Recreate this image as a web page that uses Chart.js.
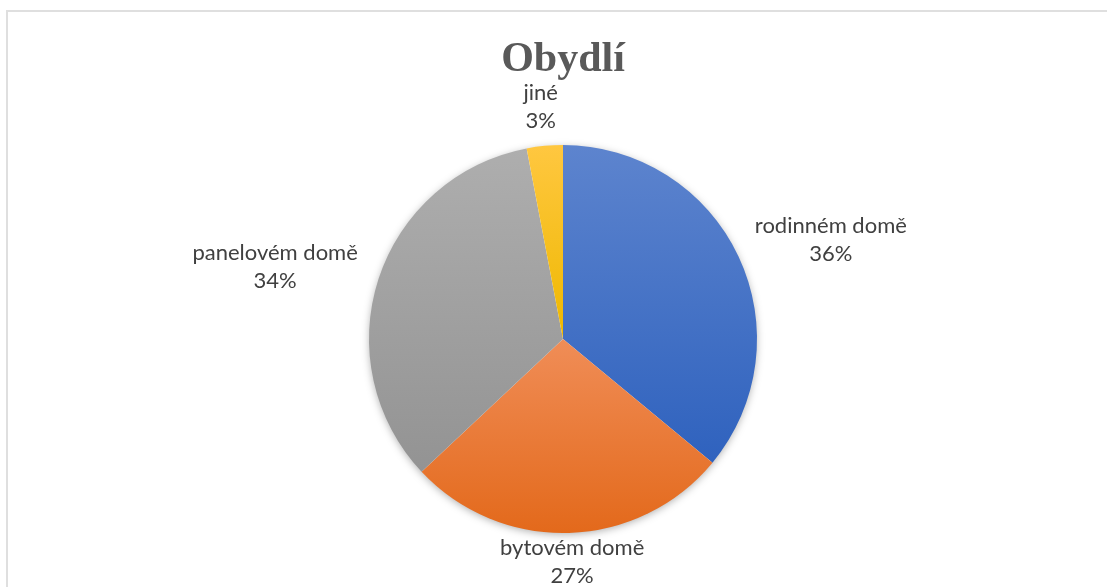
<!DOCTYPE html>
<html lang="cs">
<head>
<meta charset="utf-8">
<title>Obydlí</title>
<script src="https://cdn.jsdelivr.net/npm/chart.js@4.4.1/dist/chart.umd.min.js"></script>
<style>
    html, body { margin: 0; padding: 0; background: #fff; overflow: hidden; }
    #ramecek { position: absolute; left: 6px; top: 10px; width: 1130px; height: 620px;
               border: 2px solid #dfdfdf; box-sizing: border-box; }
    #obal { position: absolute; left: 0; top: 0; width: 1107px; height: 587px; }
</style>
</head>
<body>
<div id="ramecek"></div>
<div id="obal"><canvas id="graf" width="1107" height="587"></canvas></div>
<script>
// data
const kategorie = ["rodinném domě", "bytovém domě", "panelovém domě", "jiné"];
const hodnoty = [36, 27, 34, 3];
const barvyHore = ["#5d84ce", "#f08d57", "#aeaeae", "#ffc740"];
const barvyDole = ["#2f62be", "#e3691b", "#939393", "#eeb800"];
const nadpis = "Obydlí";

const soucet = hodnoty.reduce((a, b) => a + b, 0);

// svislý rozsah výseče (kvůli přechodu shora dolů)
function rozsahY(cy, r, a0, a1) {
    const ys = [cy, cy + r * Math.sin(a0), cy + r * Math.sin(a1)];
    for (let k = -2; k <= 4; k++) {
        const a = k * Math.PI / 2;
        if (a > a0 && a < a1) ys.push(cy + r * Math.sin(a));
    }
    return [Math.min(...ys), Math.max(...ys)];
}

function vypln(ctx) {
    const i = ctx.dataIndex;
    const chart = ctx.chart;
    const area = chart.chartArea;
    if (!area) return barvyHore[i];
    const cy = (area.top + area.bottom) / 2;
    const r = Math.min(area.right - area.left, area.bottom - area.top) / 2;
    const pred = hodnoty.slice(0, i).reduce((a, b) => a + b, 0);
    const a0 = -Math.PI / 2 + 2 * Math.PI * pred / soucet;
    const a1 = a0 + 2 * Math.PI * hodnoty[i] / soucet;
    const [y0, y1] = rozsahY(cy, r, a0, a1);
    const g = chart.ctx.createLinearGradient(0, y0, 0, y1);
    g.addColorStop(0, barvyHore[i]);
    g.addColorStop(1, barvyDole[i]);
    return g;
}

// stín pod koláčem
const stin = {
    id: "stin",
    beforeDatasetsDraw(chart) {
        const arc = chart.getDatasetMeta(0).data[0];
        if (!arc) return;
        const c = chart.ctx;
        c.save();
        c.shadowColor = "rgba(0,0,0,0.35)";
        c.shadowBlur = 9;
        c.shadowOffsetY = 2;
        c.fillStyle = "#ffffff";
        c.beginPath();
        c.arc(arc.x, arc.y, arc.outerRadius - 1, 0, Math.PI * 2);
        c.fill();
        c.restore();
    }
};

// popisky a nadpis
const popisky = {
    id: "popisky",
    afterDatasetsDraw(chart) {
        const c = chart.ctx;
        const meta = chart.getDatasetMeta(0);
        c.save();
        c.fillStyle = "#404040";
        c.font = "22px Lato";
        c.textAlign = "center";
        c.textBaseline = "middle";
        meta.data.forEach((arc, i) => {
            const radky = [kategorie[i], Math.round(hodnoty[i] / soucet * 100) + "%"];
            const hw = Math.max(...radky.map(t => c.measureText(t).width)) / 2;
            const hh = 28;
            const a = (arc.startAngle + arc.endAngle) / 2;
            const gy = Math.sin(a) < 0 ? 11 : 1;
            const x = arc.x + (arc.outerRadius + hw + 26) * Math.cos(a);
            const y = arc.y + (arc.outerRadius + hh + gy) * Math.sin(a);
            c.fillText(radky[0], x, y - 14);
            c.fillText(radky[1], x, y + 14);
        });

        const arc = meta.data[0];
        c.fillStyle = "#595959";
        c.font = "bold 42px 'Liberation Serif'";
        c.textBaseline = "alphabetic";
        c.fillText(nadpis, arc.x, 71);
        c.restore();
    }
};

new Chart(document.getElementById("graf").getContext("2d"), {
    type: "pie",
    data: {
        labels: kategorie,
        datasets: [{
            data: hodnoty,
            backgroundColor: vypln,
            borderWidth: 0,
            hoverOffset: 0
        }]
    },
    options: {
        responsive: false,
        animation: false,
        layout: { padding: { top: 145, bottom: 54, left: 19, right: 0 } },
        plugins: {
            legend: { display: false },
            tooltip: { enabled: false },
            title: { display: false }
        }
    },
    plugins: [stin, popisky]
});
</script>
</body>
</html>
